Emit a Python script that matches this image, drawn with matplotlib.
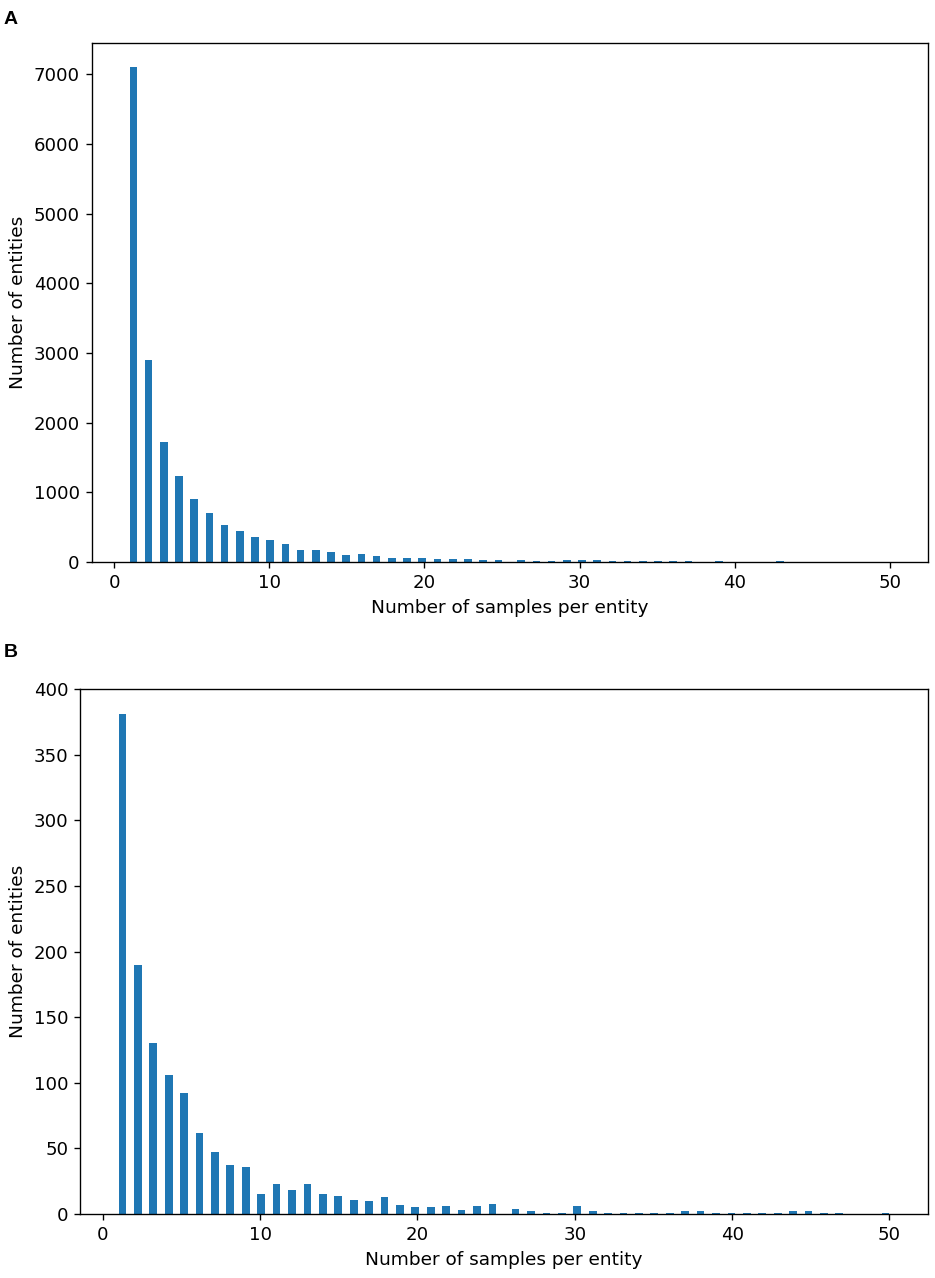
import matplotlib
matplotlib.use("Agg")
import matplotlib.pyplot as plt

# Number of samples per entity (integer values)
samples = [1, 2, 3, 4, 5, 6, 7, 8, 9, 10,
           11, 12, 13, 14, 15, 16, 17, 18, 19, 20,
           21, 22, 23, 24, 25, 26, 27, 28, 29, 30,
           31, 32, 33, 34, 35, 36, 37, 38, 39, 40,
           41, 42, 43, 44, 45, 46, 47, 48, 49, 50]

# Panel A: number of entities per sample count
counts_a = [7100, 2900, 1725, 1231, 910, 704, 527, 446, 355, 321,
            263, 177, 177, 139, 96, 120, 81, 62, 62, 62,
            48, 48, 43, 29, 34, 25, 20, 20, 28, 22,
            28, 20, 12, 12, 10, 10, 12, 3, 8, 5,
            5, 2, 8, 1, 1, 1, 1, 1, 1, 1]

# Panel B: number of entities per sample count
counts_b = [381, 190, 130, 106, 92, 62, 47, 37, 36, 15,
            23, 18, 23, 15, 14, 11, 10, 13, 7, 5,
            5, 6, 3, 6, 8, 4, 2, 1, 1, 6,
            2, 1, 1, 1, 1, 1, 2, 2, 1, 1,
            1, 1, 1, 2, 2, 1, 1, 0, 0, 1]

panel_labels = ["A", "B"]
xlabel = "Number of samples per entity"
ylabel = "Number of entities"

plt.rcParams["font.size"] = 10.7
plt.rcParams["axes.labelsize"] = 10.9

DPI = 122
fig = plt.figure(figsize=(935 / DPI, 1278 / DPI), dpi=DPI)
W, H = 935.0, 1278.0

def axes_px(left, top, right, bottom):
    return fig.add_axes([left / W, 1 - bottom / H, (right - left) / W, (bottom - top) / H])

ax_a = axes_px(91.5, 42.7, 928, 562)
ax_b = axes_px(80, 689, 928, 1214)

for ax, counts in [(ax_a, counts_a), (ax_b, counts_b)]:
    ax.hist(samples, bins=100, weights=counts, color="#1f77b4")
    ax.set_xlabel(xlabel)
    ax.set_ylabel(ylabel)

fig.text(4 / W, 1 - 24 / H, panel_labels[0], fontsize=11.5, fontweight="bold",
         family="Liberation Sans", ha="left", va="baseline")
fig.text(4 / W, 1 - 657 / H, panel_labels[1], fontsize=11.5, fontweight="bold",
         family="Liberation Sans", ha="left", va="baseline")

fig.savefig("out.png", dpi=DPI)
